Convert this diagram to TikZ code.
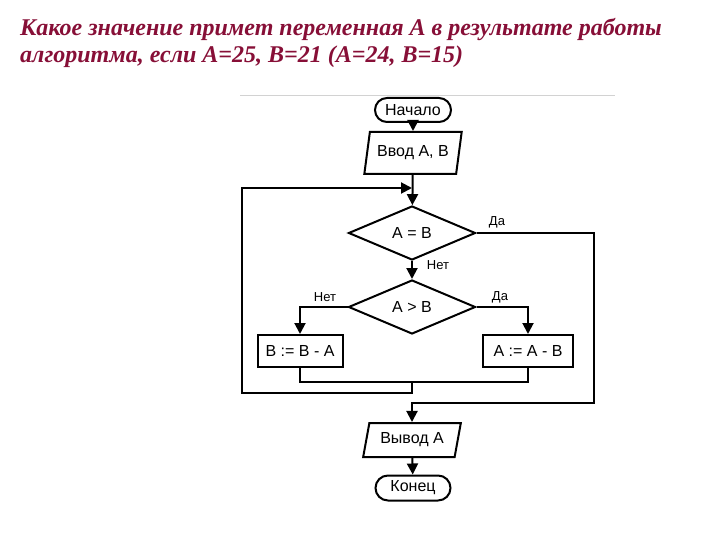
\documentclass[tikz,border=0pt]{standalone}
\usepackage{fontspec}
\setmainfont{Liberation Serif}
\newfontfamily\flowfont{Liberation Sans}
\usetikzlibrary{shapes.geometric,shapes.misc,arrows.meta}
\definecolor{titlered}{RGB}{135,15,55}
\tikzset{
	block/.style={draw, line width=2pt, inner sep=0pt, font=\flowfont\fontsize{16}{18}\selectfont},
	term/.style={block, rounded rectangle, minimum width=76pt, minimum height=24pt},
	io/.style={block, trapezium, trapezium left angle=72, trapezium right angle=108,
		trapezium stretches=true, minimum width=98pt},
	test/.style={block, diamond, aspect=2.3, minimum width=127pt, minimum height=54pt},
	act/.style={block, rectangle, minimum height=32pt},
	arr/.style={line width=2pt, -{Triangle[length=11pt,width=11pt]}},
	wire/.style={line width=2pt},
	yesno/.style={font=\flowfont\fontsize{13}{15}\selectfont, inner sep=0pt},
	title/.style={anchor=base west, inner sep=0pt, text=titlered,
		font=\fontsize{24}{28}\selectfont\bfseries\itshape}
}
\begin{document}
\begin{tikzpicture}[x=1pt, y=-1pt]
			\useasboundingbox (0,0) rectangle (720,540);
			\node[title] (title1) at (20,36) {Какое значение примет переменная А в результате работы};
			\node[title] (title2) at (20,63) {алгоритма, если А=25, В=21 (А=24, В=15)};
			\draw[gray!35, line width=0.8pt] (240,95) -- (615,95);
			% blocks of the algorithm
			\node[term] (start) at (413,110) {Начало};
			\node[io, minimum height=42pt] (input) at (413,153) {Ввод А, В};
			\node[test] (eq) at (412,233) {А = В};
			\node[test] (gt) at (412,307) {А > В};
			\node[act, minimum width=85pt] (bsub) at (300,351) {В := В - А};
			\node[act, minimum width=90pt] (asub) at (528,351) {А := А - В};
			\node[io, minimum height=34pt] (output) at (412,440) {Вывод А};
			\node[term, minimum width=75pt, minimum height=25pt] (stop) at (413,488) {Конец};
			\coordinate (back) at (412,188);
			\coordinate (merge) at (412,382);
			% connectors
			\draw[arr] (start) -- (input);
			\draw[arr] (input) -- (eq);
			\draw[arr] (eq) -- (gt);
			\draw[arr] (gt.west) -| (bsub.north);
			\draw[arr] (gt.east) -| (asub.north);
			\draw[wire] (bsub.south) |- (merge) -| (asub.south);
			\draw[arr] (merge) -- ++(0,11) -- ++(-170,0) |- (back);
			\draw[arr] (eq.east) -- ++(117,0) -- ++(0,170) -| (output.north);
			\draw[arr] (output) -- (stop);
			% labels
			\node[yesno] (yes1) at (497,222) {Да};
			\node[yesno] (no1) at (438,265) {Нет};
			\node[yesno] (no2) at (325,297) {Нет};
			\node[yesno] (yes2) at (500,297) {Да};
\end{tikzpicture}
\end{document}
